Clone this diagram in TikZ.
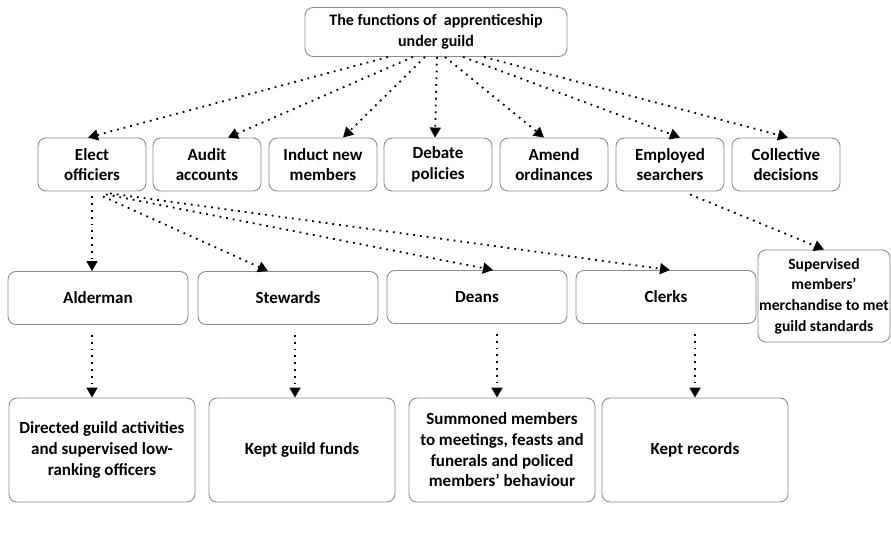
\documentclass[tikz,border=0pt]{standalone}
\usepackage{fontspec}
\setmainfont{Carlito}
\usetikzlibrary{arrows.meta}
\usetikzlibrary{shapes}

\tikzset{
  fbox/.style={draw=black!45,line width=0.9pt,rounded corners=8pt,align=center,
    inner sep=0pt,font=\bfseries\fontsize{17}{20.7}\selectfont},
  midbox/.style={fbox,minimum width=108pt,minimum height=53pt},
  offbox/.style={fbox,minimum width=180pt,minimum height=53pt},
  dutybox/.style={fbox,minimum width=186pt,minimum height=104pt},
  dotlink/.style={line width=1.8pt,dash pattern=on 1.8pt off 5pt,
    -{Triangle[width=11pt,length=10pt]}},
}

\begin{document}
\begin{tikzpicture}[x=1pt,y=1pt,line join=bevel]
\useasboundingbox (0,0) rectangle (891,547);
%%
\node (guild) at (436pt,515pt) [fbox,minimum width=262pt,minimum height=49pt,font=\bfseries\fontsize{16}{21}\selectfont] {The functions of\ \ apprenticeship\\under guild};
  \node (elect) at (92pt,382.5pt) [midbox] {Elect\\officiers};
  \node (audit) at (207pt,382.5pt) [midbox] {Audit\\accounts};
  \node (induct) at (323pt,382.5pt) [midbox] {Induct new\\members};
  \node (debate) at (438pt,382.5pt) [midbox] {Debate\\policies};
  \node (amend) at (554pt,382.5pt) [midbox] {Amend\\ordinances};
  \node (employ) at (670pt,382.5pt) [midbox] {Employed\\searchers};
  \node (collect) at (786pt,382.5pt) [midbox] {Collective\\decisions};
  \node (alder) at (98pt,249pt) [offbox] {Alderman};
  \node (steward) at (288pt,249pt) [offbox] {Stewards};
  \node (dean) at (477pt,250pt) [offbox] {Deans};
  \node (clerk) at (666pt,250pt) [offbox] {Clerks};
  \node (superv) at (824pt,251pt) [fbox,minimum width=132pt,minimum height=92pt,font=\bfseries\fontsize{15.6}{20.7}\selectfont] {Supervised\\members'\\merchandise to met\\guild standards};
  \node (direct) at (102pt,97pt) [dutybox] {Directed guild\ activities\\and supervised low-\\ranking officers};
  \node (funds) at (302pt,97pt) [dutybox] {Kept guild funds};
  \node (summon) at (502pt,97pt) [dutybox] {Summoned members\\to meetings, feasts and\\funerals and policed\\members' behaviour};
  \node (record) at (695pt,97pt) [dutybox] {Kept records};
  \draw [dotlink] ([xshift=-48pt]guild.south) -- ([xshift=-4pt]elect.north);
  \draw [dotlink] ([xshift=-23pt]guild.south) -- ([xshift=21pt]audit.north);
  \draw [dotlink] ([xshift=-11pt]guild.south) -- ([xshift=20pt]induct.north);
  \draw [dotlink] ([xshift=1pt]guild.south) -- ([xshift=-3pt]debate.north);
  \draw [dotlink] ([xshift=9pt]guild.south) -- ([xshift=-10pt]amend.north);
  \draw [dotlink] ([xshift=27pt]guild.south) -- ([xshift=10pt]employ.north);
  \draw [dotlink] ([xshift=48pt]guild.south) -- ([xshift=2pt]collect.north);
  \draw [dotlink] ([xshift=0pt,yshift=-5pt]elect.south) -- ([xshift=-6pt]alder.north);
  \draw [dotlink] ([xshift=11pt,yshift=-5pt]elect.south) -- ([xshift=-20pt]steward.north);
  \draw [dotlink] ([xshift=14pt,yshift=-3pt]elect.south) -- ([xshift=16pt]dean.north);
  \draw [dotlink] ([xshift=18pt,yshift=-2pt]elect.south) -- ([xshift=4pt]clerk.north);
  \draw [dotlink] ([xshift=20pt,yshift=-3pt]employ.south) -- (superv.north);
  \draw [dotlink] ([xshift=-6pt,yshift=-10pt]alder.south) -- ([xshift=-10pt]direct.north);
  \draw [dotlink] ([xshift=7pt,yshift=-10pt]steward.south) -- ([xshift=-7pt]funds.north);
  \draw [dotlink] ([xshift=20pt,yshift=-10pt]dean.south) -- ([xshift=-5pt]summon.north);
  \draw [dotlink] ([xshift=29pt,yshift=-10pt]clerk.south) -- ([xshift=0pt]record.north);
%
\end{tikzpicture}
\end{document}
